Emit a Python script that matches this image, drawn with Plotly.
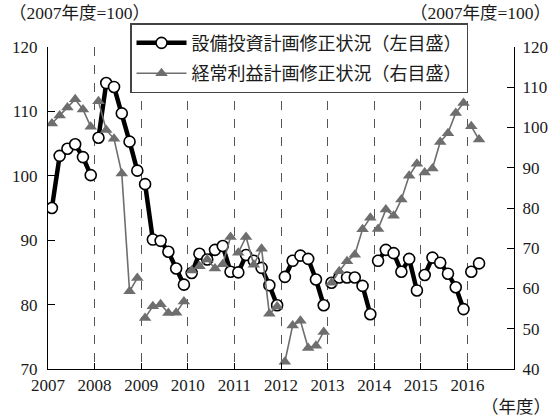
import plotly.graph_objects as go

# Fiscal years and survey-by-survey index values (6 surveys per fiscal year)
fiscal_years = [2007, 2008, 2009, 2010, 2011, 2012, 2013, 2014, 2015, 2016]

# 設備投資計画修正状況 (left scale, 2007 FY = 100)
capex_plan = [
    [95.0, 103.1, 104.2, 104.9, 102.9, 100.1],
    [105.9, 114.4, 113.8, 109.7, 105.3, 100.8],
    [98.7, 90.1, 89.9, 88.2, 85.6, 83.1],
    [84.9, 87.9, 87.0, 88.5, 89.1, 85.1],
    [85.0, 87.7, 86.8, 85.7, 83.0, 79.9],
    [84.3, 86.8, 87.6, 87.1, 83.9, 79.9],
    [83.4, 84.2, 84.2, 84.2, 82.9, 78.5],
    [86.8, 88.5, 88.0, 85.1, 87.1, 82.2],
    [84.6, 87.3, 86.5, 84.8, 82.7, 79.3],
    [85.1, 86.4],
]

# 経常利益計画修正状況 (right scale, 2007 FY = 100)
profit_plan = [
    [101.0, 103.0, 105.0, 107.0, 104.5, 100.2],
    [106.5, 99.4, 97.2, 88.6, 59.3, 62.6],
    [52.7, 55.6, 56.1, 53.9, 54.0, 56.8],
    [64.5, 65.5, 67.2, 65.0, 66.0, 72.8],
    [68.9, 72.8, 65.9, 69.9, 53.7, 55.5],
    [41.8, 50.8, 52.0, 45.2, 45.8, 49.2],
    [61.4, 64.3, 66.8, 68.4, 74.7, 77.6],
    [74.8, 79.6, 78.1, 82.1, 88.0, 91.0],
    [88.8, 89.8, 96.4, 98.6, 103.6, 106.1],
    [100.3, 97.0],
]

x_ticks = list(range(2007, 2017))
left_ticks = [70, 80, 90, 100, 110, 120]
right_ticks = [40, 50, 60, 70, 80, 90, 100, 110, 120]

SERIF = "Liberation Serif, 'Noto Sans CJK JP', serif"


def flatten(per_year):
    """Place each survey at the middle of its sixth of the fiscal year;
    break the line between fiscal years."""
    xs, ys = [], []
    for fy, vals in zip(fiscal_years, per_year):
        for i, v in enumerate(vals):
            xs.append(fy + (i + 0.5) / 6)
            ys.append(v)
        xs.append(None)
        ys.append(None)
    return xs, ys


cx, cy = flatten(capex_plan)
px_, py_ = flatten(profit_plan)

fig = go.Figure()
fig.add_trace(go.Scatter(
    x=cx, y=cy, yaxis="y", mode="lines+markers",
    name="設備投資計画修正状況（左目盛）", legendgroup="capex",
    line=dict(color="#000000", width=4.5),
    marker=dict(symbol="circle", size=11, color="#ffffff",
                line=dict(color="#000000", width=1.6)),
    connectgaps=False,
))
fig.add_trace(go.Scatter(
    x=px_, y=py_, yaxis="y2", mode="lines+markers",
    name="経常利益計画修正状況（右目盛）", legendgroup="profit",
    line=dict(color="#6e6e6e", width=1.6),
    marker=dict(symbol="triangle-up", size=11, color="#6e6e6e"),
    connectgaps=False,
))

fig.update_layout(
    width=560, height=419,
    margin=dict(l=46, r=43, t=47, b=50),
    paper_bgcolor="white", plot_bgcolor="white",
    font=dict(family=SERIF, size=17, color="#1a1a1a"),
    showlegend=True,
    legend=dict(
        x=0.176, y=1.074, xanchor="left", yanchor="top",
        bgcolor="white", bordercolor="#444444", borderwidth=1.5,
        font=dict(family=SERIF, size=18, color="#1a1a1a"),
        tracegroupgap=4, itemwidth=50,
    ),
    xaxis=dict(
        range=[2007, 2017], tickvals=x_ticks,
        ticktext=[str(v) for v in x_ticks],
        showgrid=True, gridcolor="#555555", gridwidth=1, griddash="dash",
        showline=True, linecolor="#000000", linewidth=1.2,
        ticks="inside", ticklen=6, tickcolor="#000000",
        zeroline=False,
    ),
    yaxis=dict(
        range=[70, 120], tickvals=left_ticks,
        showgrid=False, zeroline=False,
        showline=True, linecolor="#000000", linewidth=1.2,
        ticks="inside", ticklen=7, tickcolor="#000000",
        ticklabelstandoff=6,
    ),
    yaxis2=dict(
        range=[40, 120], tickvals=right_ticks,
        overlaying="y", side="right",
        showgrid=False, zeroline=False,
        showline=True, linecolor="#000000", linewidth=1.2,
        ticks="inside", ticklen=7, tickcolor="#000000",
        ticklabelstandoff=4,
    ),
    annotations=[
        dict(text="（2007年度=100）", xref="paper", yref="paper",
             x=-0.089, y=1.106, xanchor="left", yanchor="middle",
             showarrow=False, font=dict(size=17.5)),
        dict(text="（2007年度=100）", xref="paper", yref="paper",
             x=1.083, y=1.106, xanchor="right", yanchor="middle",
             showarrow=False, font=dict(size=17.5)),
        dict(text="（年度）", xref="paper", yref="paper",
             x=1.083, y=-0.118, xanchor="right", yanchor="middle",
             showarrow=False, font=dict(size=17.5)),
    ],
)

fig.write_html("out.html")
